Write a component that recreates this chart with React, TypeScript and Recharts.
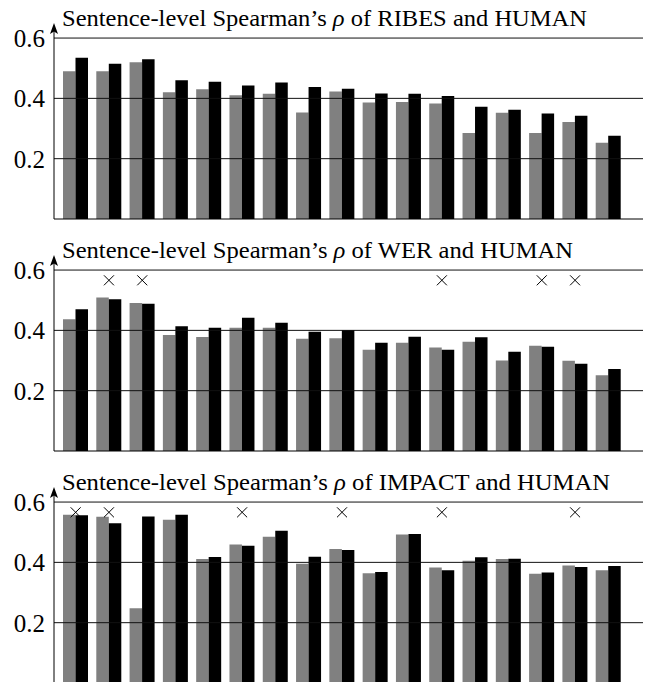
import React from 'react';
import { ComposedChart, Bar, Scatter, XAxis, YAxis, ReferenceLine } from 'recharts';

const groups = ['1', '2', '3', '4', '5', '6', '7', '8', '9', '10', '11', '12', '13', '14', '15', '16', '17'];

const ribesGray = [0.49, 0.49, 0.52, 0.42, 0.43, 0.41, 0.415, 0.353, 0.423, 0.386, 0.388, 0.383, 0.285, 0.352, 0.285, 0.322, 0.253];
const ribesBlack = [0.535, 0.515, 0.53, 0.46, 0.455, 0.443, 0.453, 0.438, 0.432, 0.416, 0.415, 0.408, 0.372, 0.362, 0.35, 0.342, 0.276];

const werGray = [0.437, 0.509, 0.491, 0.385, 0.378, 0.409, 0.409, 0.372, 0.374, 0.336, 0.359, 0.343, 0.362, 0.3, 0.349, 0.299, 0.251];
const werBlack = [0.47, 0.503, 0.488, 0.414, 0.409, 0.442, 0.425, 0.395, 0.401, 0.359, 0.379, 0.336, 0.377, 0.329, 0.346, 0.289, 0.272];

const impactGray = [0.558, 0.551, 0.248, 0.541, 0.411, 0.459, 0.485, 0.395, 0.444, 0.364, 0.492, 0.383, 0.405, 0.411, 0.362, 0.39, 0.374];
const impactBlack = [0.556, 0.53, 0.552, 0.558, 0.418, 0.455, 0.505, 0.419, 0.441, 0.368, 0.494, 0.374, 0.417, 0.412, 0.366, 0.385, 0.388];

const ribesMarks: number[] = [];
const werMarks = [2, 3, 12, 15, 16];
const impactMarks = [1, 2, 6, 9, 12, 16];
const markLevel = 0.566;

const yTicks = [0.2, 0.4, 0.6];

const metricNames = ['RIBES', 'WER', 'IMPACT'];
const titleWidths = [525, 511, 548];

const FONT = 'Liberation Serif, DejaVu Serif, serif';

const Cross = (props: any) => {
  const { cx, cy, payload } = props;
  if (!payload || payload.m == null || cx == null || cy == null) return <g />;
  const s = 5;
  return (
    <g>
      <line x1={cx - s} y1={cy - s} x2={cx + s} y2={cy + s} stroke="#000" strokeWidth={1} />
      <line x1={cx - s} y1={cy + s} x2={cx + s} y2={cy - s} stroke="#000" strokeWidth={1} />
    </g>
  );
};

function Panel({ metric, gray, black, marks, titleWidth }: { metric: string; gray: number[]; black: number[]; marks: number[]; titleWidth: number }) {
  const data = groups.map((g, i) => ({
    g,
    a: gray[i],
    b: black[i],
    m: marks.includes(i + 1) ? markLevel : null,
  }));
  return (
    <div style={{ position: 'relative', width: 650, height: 232, fontFamily: FONT }}>
      <ComposedChart width={650} height={232} data={data} margin={{ top: 29, right: 7, bottom: 12, left: 0 }} barGap={0} style={{ fontFamily: FONT }}>
        {yTicks.map((t) => (
          <ReferenceLine key={t} y={t} stroke="#111" strokeWidth={1} ifOverflow="visible" />
        ))}
        <XAxis dataKey="g" tick={false} tickLine={false} height={1} padding={{ left: 5, right: 18 }} axisLine={{ stroke: '#000', strokeWidth: 1 }} />
        <YAxis
          domain={[0, 0.63]}
          ticks={yTicks}
          width={54}
          tickLine={false}
          tickSize={0}
          tickMargin={9}
          axisLine={{ stroke: '#000', strokeWidth: 1, markerStart: 'url(#arrowUp)' } as any}
          tick={{ fontFamily: FONT, fontSize: 25, fill: '#000' }}
          tickFormatter={(v: number) => v.toFixed(1)}
        />
        <Bar dataKey="a" fill="#808080" barSize={12.5} isAnimationActive={false} />
        <Bar dataKey="b" fill="#000000" barSize={12.5} isAnimationActive={false} />
        <Scatter dataKey="m" shape={Cross} isAnimationActive={false} />
      </ComposedChart>
      <svg style={{ position: 'absolute', left: 0, top: 0, pointerEvents: 'none' }} width={650} height={34}>
        <text x={62} y={26} fontFamily={FONT} fontSize={24} fill="#000" textLength={titleWidth} lengthAdjust="spacingAndGlyphs">
          Sentence-level Spearman’s <tspan fontStyle="italic">ρ</tspan> of {metric} and HUMAN
        </text>
      </svg>
    </div>
  );
}

export default function App() {
  return (
    <div style={{ position: 'absolute', left: 0, top: 0, width: 650, height: 682, overflow: 'hidden', background: '#fff', fontFamily: FONT }}>
      <svg width={0} height={0} style={{ position: 'absolute' }}>
        <defs>
          <marker id="arrowUp" viewBox="0 0 12 9" markerWidth={12} markerHeight={9} refX={5} refY={4.5} orient="auto-start-reverse" markerUnits="userSpaceOnUse">
            <path d="M0,0.5 L11,4.5 L0,8.5 L2.5,4.5 Z" fill="#000" />
          </marker>
        </defs>
      </svg>
      <Panel metric={metricNames[0]} gray={ribesGray} black={ribesBlack} marks={ribesMarks} titleWidth={titleWidths[0]} />
      <Panel metric={metricNames[1]} gray={werGray} black={werBlack} marks={werMarks} titleWidth={titleWidths[1]} />
      <Panel metric={metricNames[2]} gray={impactGray} black={impactBlack} marks={impactMarks} titleWidth={titleWidths[2]} />
    </div>
  );
}
